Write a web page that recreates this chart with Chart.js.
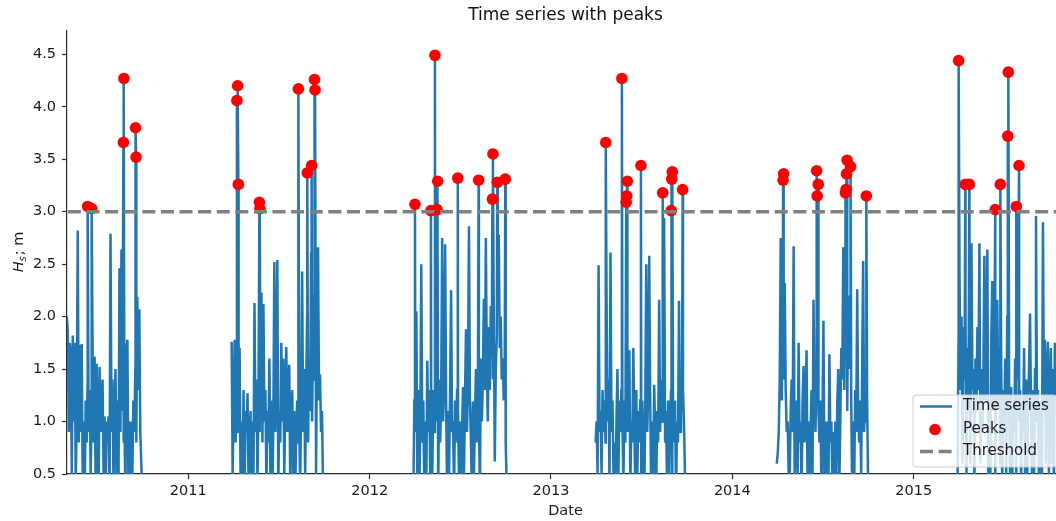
<!DOCTYPE html>
<html>
<head>
<meta charset="utf-8">
<script src="https://cdn.jsdelivr.net/npm/chart.js@4"></script>
<style>
  html, body { margin: 0; padding: 0; overflow: hidden; background: #fff; }
  #wrap { width: 1070px; height: 521px; }
</style>
</head>
<body>
<div id="wrap"><canvas id="chart" width="1070" height="521"></canvas></div>
<script>
// significant wave height, one sample every 2 days during each measuring season
const seasonStarts = [2010.330, 2011.239, 2012.241, 2013.246, 2014.245, 2015.242];
const sampleStep = 2 / 365.25;

const hs2010 = [2.0, 1.85, 0.9, 1.75, 1.63, 0.5, 1.82, 1.0, 1.75, 0.4,
    1.1, 2.82, 0.8, 1.73, 0.9, 1.74, 0.4, 1.0, 0.3, 1.2,
    0.8, 1.4, 0.9, 1.3, 0.5, 1.1, 1.6, 0.8, 1.62, 0.4,
    1.55, 1.0, 0.3, 1.52, 0.9, 1.2, 1.4, 0.5, 1.05, 0.3,
    1.0, 0.8, 1.05, 0.3, 2.79, 0.9, 1.4, 0.4, 1.0, 1.5,
    0.5, 1.2, 0.3, 2.46, 0.9, 2.64, 1.1, 0.8, 1.0, 0.3,
    1.68, 1.78, 0.4, 1.0, 0.3, 1.0, 0.5, 1.2, 0.9, 1.5,
    0.8, 2.19, 1.3, 2.07, 0.9, 0.6, 0.3];
const hs2011 = [1.76, 0.5, 1.2, 1.78, 0.8, 1.5, 0.9, 1.3, 1.7, 0.4,
    1.0, 0.5, 1.3, 0.3, 1.1, 0.9, 1.27, 0.4, 0.8, 1.1,
    0.3, 1.0, 0.5, 2.13, 0.9, 1.4, 0.4, 1.2, 0.9, 1.5,
    2.23, 0.8, 2.12, 1.0, 1.3, 0.4, 1.1, 0.8, 1.6, 0.5,
    1.2, 0.3, 1.0, 2.52, 0.9, 1.3, 2.54, 0.4, 1.1, 0.8,
    1.75, 1.0, 1.6, 0.5, 1.2, 1.71, 0.9, 1.3, 1.54, 0.4,
    1.0, 1.3, 0.5, 1.1, 0.3, 0.9, 1.2, 0.8, 1.0, 0.4,
    1.2, 2.43, 0.9, 1.5, 0.5, 1.3, 2.0, 0.8, 1.6, 1.1,
    2.6, 1.0, 1.8, 2.2, 1.4, 0.5, 1.9, 2.66, 1.2, 1.45,
    0.9, 1.1, 0.4];
const hs2012 = [0.3, 1.2, 0.9, 2.05, 0.5, 1.3, 0.3, 1.0, 2.5, 0.8,
    1.2, 0.4, 1.0, 0.3, 1.58, 0.9, 1.3, 0.5, 1.1, 0.4,
    1.3, 0.9, 1.6, 1.0, 1.5, 0.3, 1.4, 0.8, 1.2, 2.75,
    1.0, 1.4, 2.69, 1.2, 0.3, 1.1, 0.5, 1.3, 2.25, 0.9,
    1.0, 0.3, 1.2, 0.8, 1.3, 1.1, 0.4, 1.0, 0.3, 0.9,
    1.33, 0.5, 1.2, 1.88, 0.9, 1.4, 2.86, 1.2, 0.8, 0.3,
    1.19, 0.5, 1.0, 1.5, 0.8, 1.3, 1.1, 0.3, 1.6, 1.0,
    1.4, 2.17, 1.3, 2.75, 1.5, 1.0, 1.9, 1.3, 2.1, 1.6,
    1.4, 2.0, 0.62, 1.5, 1.8, 2.3, 2.78, 1.7, 2.0, 1.4,
    1.6, 1.2, 1.5, 0.8, 0.4];
const hs2013 = [0.8, 1.0, 0.5, 2.49, 0.9, 1.1, 0.5, 1.3, 0.9, 1.2,
    0.8, 2.23, 1.0, 1.4, 0.4, 2.61, 0.9, 1.2, 0.5, 0.8,
    0.3, 1.0, 1.5, 0.5, 1.2, 0.9, 1.3, 1.0, 0.4, 1.2,
    0.8, 1.4, 0.9, 1.1, 1.68, 0.4, 1.0, 0.8, 1.7, 1.0,
    0.3, 1.3, 0.5, 1.1, 0.8, 1.2, 0.4, 1.2, 0.9, 0.3,
    1.1, 2.5, 0.9, 1.3, 2.58, 1.2, 0.3, 1.0, 0.5, 1.35,
    0.9, 0.3, 1.1, 0.8, 2.16, 0.9, 1.4, 1.0, 1.3, 2.94,
    0.8, 1.1, 0.3, 1.2, 0.5, 1.0, 1.3, 0.4, 1.0, 0.8,
    1.2, 0.3, 1.0, 0.8, 2.15, 0.9, 1.3, 1.1, 1.3, 1.0,
    0.5, 0.3];
const hs2014 = [0.6, 0.7, 0.9, 1.4, 2.75, 1.2, 1.8, 1.4, 2.32, 1.3,
    0.9, 1.0, 0.5, 0.4, 1.1, 1.4, 0.9, 2.67, 0.5, 0.8,
    1.2, 0.4, 1.75, 0.8, 1.0, 0.3, 1.2, 1.53, 0.8, 1.1,
    1.68, 0.4, 1.0, 0.3, 0.9, 1.3, 0.5, 2.16, 1.3, 0.9,
    1.5, 1.2, 1.1, 0.8, 1.2, 0.3, 1.0, 1.96, 0.5, 1.0,
    0.4, 1.0, 0.3, 1.64, 0.8, 1.0, 0.4, 0.9, 0.3, 1.0,
    0.5, 1.2, 1.5, 0.4, 1.0, 1.7, 1.4, 2.66, 1.3, 2.0,
    1.6, 1.1, 2.2, 1.5, 1.8, 1.2, 0.3, 1.0, 0.4, 1.3,
    0.9, 2.26, 1.1, 0.8, 1.2, 0.5, 1.5, 2.53, 0.9, 1.4,
    1.0, 1.2, 0.4];
const hs2015 = [0.4, 1.8, 2.37, 1.3, 2.0, 0.6, 1.9, 1.4, 2.0, 0.5,
    1.7, 1.2, 1.8, 0.6, 2.7, 1.3, 1.5, 0.4, 1.6, 1.1,
    1.9, 1.3, 2.7, 0.6, 1.5, 0.9, 1.4, 2.58, 1.2, 1.6,
    2.64, 0.5, 1.2, 0.4, 1.8, 2.34, 1.1, 1.6, 0.5, 1.4,
    2.16, 1.2, 1.7, 0.6, 1.5, 0.4, 1.3, 1.0, 1.6, 0.5,
    2.0, 1.4, 1.1, 0.4, 1.33, 0.3, 1.2, 0.9, 1.6, 0.5,
    1.4, 1.9, 1.0, 1.3, 0.4, 1.2, 0.9, 1.7, 0.5, 1.4,
    0.3, 1.2, 1.5, 2.03, 1.1, 0.5, 1.3, 0.4, 1.5, 2.96,
    1.0, 1.3, 0.3, 1.0, 1.2, 0.5, 2.9, 1.1, 1.78, 0.6,
    1.4, 1.76, 0.5, 1.3, 1.7, 0.6, 1.5, 0.4, 1.75, 1.2,
    1.6, 0.5, 1.7, 1.3, 0.4, 1.5, 1.2, 1.6];
const seasons = [hs2010, hs2011, hs2012, hs2013, hs2014, hs2015];

// peaks over threshold
const peakDates = [2010.445, 2010.467, 2010.642, 2010.645, 2010.709, 2010.712,
    2011.268, 2011.272, 2011.276, 2011.392, 2011.395, 2011.607, 2011.656, 2011.680, 2011.696, 2011.699,
    2012.250, 2012.338, 2012.360, 2012.372, 2012.375, 2012.486, 2012.601, 2012.677, 2012.680, 2012.704, 2012.748,
    2013.302, 2013.391, 2013.415, 2013.418, 2013.421, 2013.496, 2013.616, 2013.663, 2013.666, 2013.669, 2013.726,
    2014.280, 2014.283, 2014.465, 2014.468, 2014.474, 2014.624, 2014.627, 2014.630, 2014.633, 2014.652, 2014.739,
    2015.248, 2015.285, 2015.307, 2015.450, 2015.478, 2015.519, 2015.522, 2015.566, 2015.581];
const peakValues = [3.05, 3.03, 3.66, 4.27, 3.80, 3.52,
    4.06, 4.20, 3.26, 3.09, 3.03, 4.17, 3.37, 3.44, 4.26, 4.16,
    3.07, 3.01, 4.49, 3.02, 3.29, 3.32, 3.30, 3.12, 3.55, 3.28, 3.31,
    3.66, 4.27, 3.09, 3.15, 3.29, 3.44, 3.18, 3.01, 3.31, 3.38, 3.21,
    3.30, 3.36, 3.39, 3.15, 3.26, 3.18, 3.21, 3.36, 3.49, 3.43, 3.15,
    4.44, 3.26, 3.26, 3.02, 3.26, 3.72, 4.33, 3.05, 3.44];

const threshold = 3.0;
const yearTicks = [2011, 2012, 2013, 2014, 2015];
const hsTicks = [0.5, 1.0, 1.5, 2.0, 2.5, 3.0, 3.5, 4.0, 4.5];
const dateRange = [2010.331, 2015.829];
const hsRange = [0.5, 4.722];

const FONT = "'DejaVu Sans', sans-serif";
const TEXT = '#1a1a1a';
const AXIS = '#2a2a2a';

function buildSeries() {
    const points = [];
    seasons.forEach((values, s) => {
        const start = seasonStarts[s];
        const end = start + (values.length - 1) * sampleStep;
        const pts = values.map((v, i) => ({x: start + i * sampleStep, y: v}));
        peakDates.forEach((d, k) => {
            if (d >= start && d <= end) pts.push({x: d, y: peakValues[k]});
        });
        pts.sort((a, b) => a.x - b.x);
        points.push(...pts, {x: end + sampleStep / 2, y: null}); // break between seasons
    });
    return points;
}

// title centred over the axes, like matplotlib
const titlePlugin = {
    id: 'axesTitle',
    afterDraw(chart) {
        const {ctx, chartArea} = chart;
        ctx.save();
        ctx.font = `17px ${FONT}`;
        ctx.fillStyle = '#111';
        ctx.textAlign = 'center';
        ctx.textBaseline = 'middle';
        ctx.fillText('Time series with peaks', (chartArea.left + chartArea.right) / 2, 16);
        ctx.restore();
    }
};

// y label with subscript: H_s; m
const yLabelPlugin = {
    id: 'yLabel',
    afterDraw(chart) {
        const {ctx, chartArea} = chart;
        ctx.save();
        ctx.translate(18, (chartArea.top + chartArea.bottom) / 2);
        ctx.rotate(-Math.PI / 2);
        ctx.fillStyle = TEXT;
        ctx.textBaseline = 'alphabetic';
        ctx.font = `italic 14.5px ${FONT}`;
        const wH = ctx.measureText('H').width;
        ctx.font = `italic 10px ${FONT}`;
        const wS = ctx.measureText('s').width;
        ctx.font = `14.5px ${FONT}`;
        const wR = ctx.measureText('; m').width;
        const x = -(wH + wS + wR) / 2;
        ctx.font = `italic 14.5px ${FONT}`;
        ctx.fillText('H', x, 5);
        ctx.font = `italic 10px ${FONT}`;
        ctx.fillText('s', x + wH, 8);
        ctx.font = `14.5px ${FONT}`;
        ctx.fillText('; m', x + wH + wS + 1, 5);
        ctx.restore();
    }
};

// legend in the lower right corner of the axes
const legendPlugin = {
    id: 'axesLegend',
    afterDraw(chart) {
        const {ctx, chartArea} = chart;
        const w = 144, h = 72;
        const x0 = chartArea.right - 7 - w;
        const y0 = chartArea.bottom - 7 - h;
        ctx.save();
        ctx.beginPath();
        ctx.roundRect(x0, y0, w, h, 3);
        ctx.fillStyle = 'rgba(255,255,255,0.8)';
        ctx.fill();
        ctx.strokeStyle = '#cccccc';
        ctx.lineWidth = 1;
        ctx.stroke();

        const rows = [y0 + 11.5, y0 + 34.5, y0 + 56.5];
        // time series handle
        ctx.beginPath();
        ctx.moveTo(x0 + 7, rows[0]);
        ctx.lineTo(x0 + 39, rows[0]);
        ctx.strokeStyle = '#1f77b4';
        ctx.lineWidth = 2.5;
        ctx.stroke();
        // peaks handle
        ctx.beginPath();
        ctx.arc(x0 + 22, rows[1], 5.8, 0, Math.PI * 2);
        ctx.fillStyle = 'red';
        ctx.fill();
        // threshold handle
        ctx.beginPath();
        ctx.setLineDash([13, 5.6]);
        ctx.moveTo(x0 + 7, rows[2]);
        ctx.lineTo(x0 + 39, rows[2]);
        ctx.strokeStyle = 'gray';
        ctx.lineWidth = 3.5;
        ctx.stroke();
        ctx.setLineDash([]);

        ctx.font = `15px ${FONT}`;
        ctx.fillStyle = TEXT;
        ctx.textBaseline = 'middle';
        ['Time series', 'Peaks', 'Threshold'].forEach((label, i) => {
            ctx.fillText(label, x0 + 50, rows[i]);
        });
        ctx.restore();
    }
};

new Chart(document.getElementById('chart'), {
    type: 'line',
    data: {
        datasets: [
            {
                label: 'Time series',
                data: buildSeries(),
                borderColor: '#1f77b4',
                borderWidth: 2.5,
                pointRadius: 0,
                tension: 0,
                spanGaps: false,
                clip: 0,
                order: 3,
            },
            {
                label: 'Peaks',
                data: peakDates.map((d, i) => ({x: d, y: peakValues[i]})),
                showLine: false,
                pointRadius: 5.8,
                pointBackgroundColor: 'red',
                pointBorderWidth: 0,
                order: 2,
            },
            {
                label: 'Threshold',
                data: [{x: dateRange[0] - 0.2, y: threshold}, {x: dateRange[1] + 0.2, y: threshold}],
                borderColor: 'gray',
                borderWidth: 3.5,
                borderDash: [13, 5.6],
                pointRadius: 0,
                clip: 0,
                order: 1,
            },
        ]
    },
    options: {
        responsive: false,
        animation: false,
        devicePixelRatio: 1,
        layout: {
            padding: {top: 31, right: 6, left: 0, bottom: 0}
        },
        scales: {
            x: {
                type: 'linear',
                min: dateRange[0],
                max: dateRange[1],
                afterBuildTicks: axis => { axis.ticks = yearTicks.map(v => ({value: v})); },
                afterFit: scale => { scale.height = 47; },
                ticks: {
                    callback: v => String(v),
                    font: {family: FONT, size: 14.5},
                    color: TEXT,
                    padding: 4,
                    maxRotation: 0,
                },
                grid: {
                    drawOnChartArea: false,
                    tickLength: 5,
                    tickWidth: 1.2,
                    tickColor: AXIS,
                },
                border: {display: true, color: AXIS, width: 1.2},
                title: {
                    display: true,
                    text: 'Date',
                    font: {family: FONT, size: 14.5},
                    color: TEXT,
                    padding: {top: 0, bottom: 1},
                },
            },
            y: {
                min: hsRange[0],
                max: hsRange[1],
                afterBuildTicks: axis => { axis.ticks = hsTicks.map(v => ({value: v})); },
                afterFit: scale => { scale.width = 67; },
                ticks: {
                    callback: v => v.toFixed(1),
                    font: {family: FONT, size: 14.5},
                    color: TEXT,
                    padding: 6,
                },
                grid: {
                    drawOnChartArea: false,
                    tickLength: 5,
                    tickWidth: 1.2,
                    tickColor: AXIS,
                },
                border: {display: true, color: AXIS, width: 1.2},
            },
        },
        plugins: {
            legend: {display: false},
            tooltip: {enabled: false},
            title: {display: false},
        },
    },
    plugins: [titlePlugin, yLabelPlugin, legendPlugin],
});
</script>
</body>
</html>
